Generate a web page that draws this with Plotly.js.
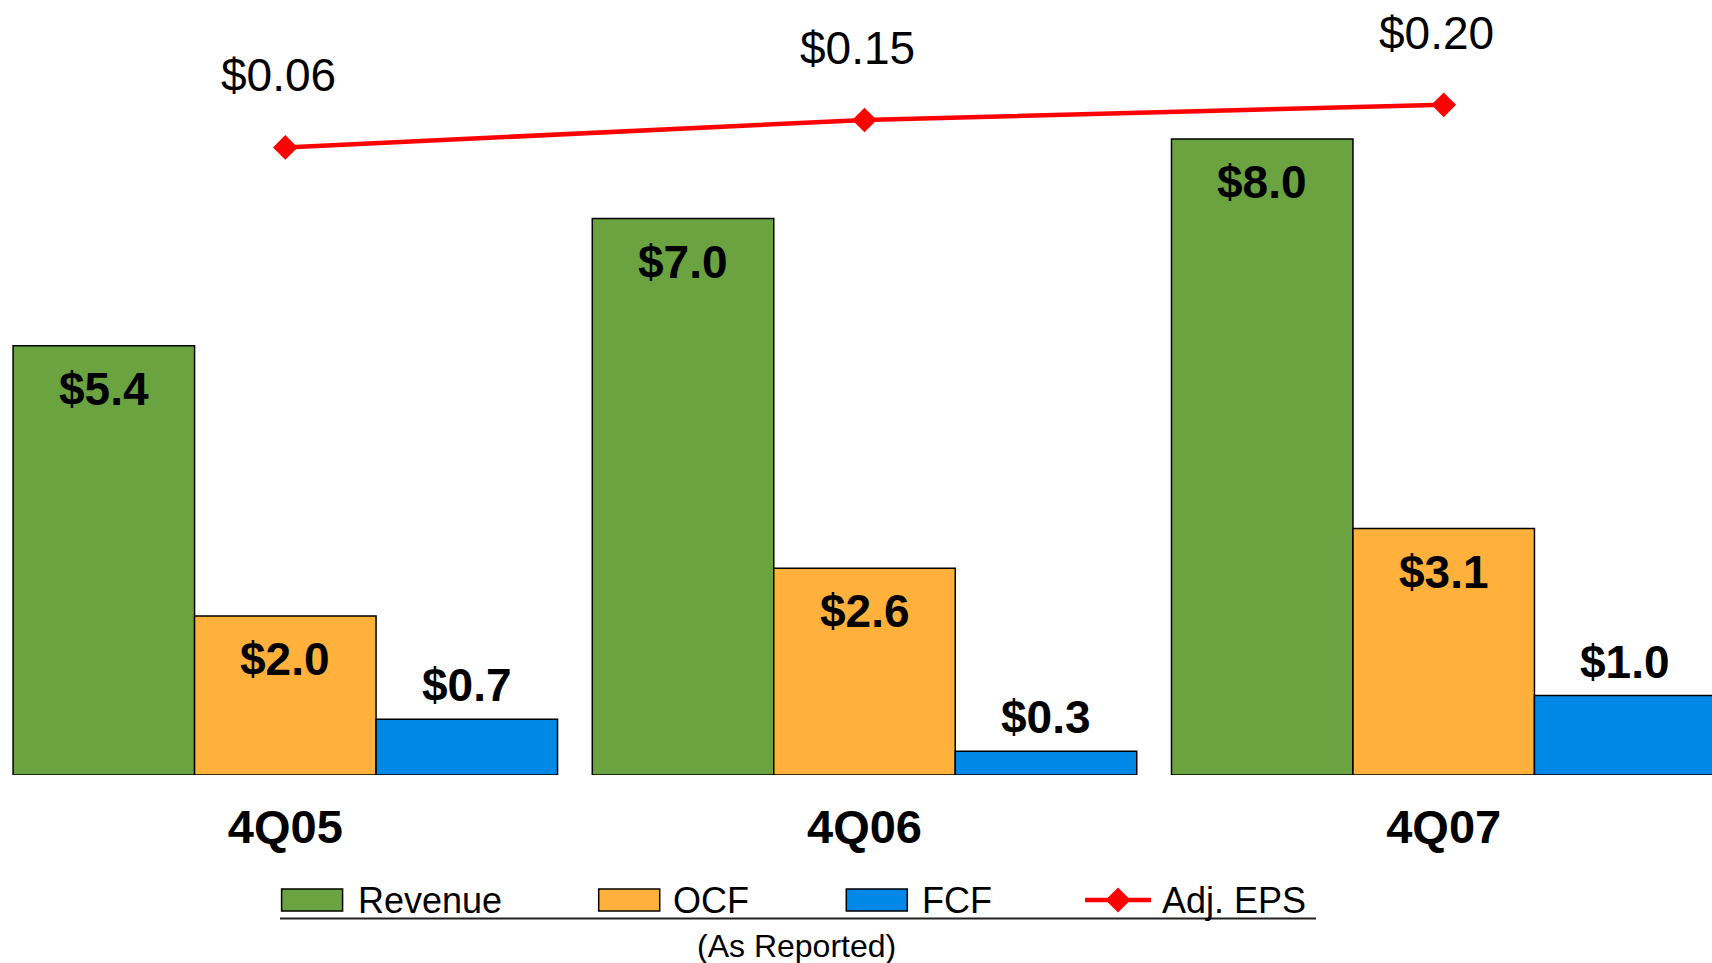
<!DOCTYPE html>
<html>
<head>
<meta charset="utf-8">
<script src="https://cdn.plot.ly/plotly-3.0.1.min.js"></script>
<style>html,body{margin:0;padding:0;background:#fff;}#chart{width:1712px;height:963px;}</style>
</head>
<body>
<div id="chart"></div>
<script>
const categories = ['4Q05', '4Q06', '4Q07'];
const revenue = [5.4, 7.0, 8.0];
const ocf = [2.0, 2.6, 3.1];
const fcf = [0.7, 0.3, 1.0];
const adjEps = [0.06, 0.15, 0.20];
const seriesNames = ['Revenue', 'OCF', 'FCF', 'Adj. EPS'];
const seriesColors = ['#6BA340', '#FFB13B', '#0088E6', '#FF0000'];
const footNote = '(As Reported)';

const W = 1712, H = 963, BASE = 775;
const FONT = 'Liberation Sans, Arial, sans-serif';
const idx = categories.map((c, i) => i);
const bargap = 0.06;
const bw = (1 - bargap) / 3;

const barSeries = [revenue, ocf, fcf];
const traces = barSeries.map((vals, k) => ({
  type: 'bar', x: idx, y: vals, name: seriesNames[k],
  marker: {color: seriesColors[k], line: {color: '#000', width: 1.5}},
  hoverinfo: 'skip', showlegend: false
}));
traces.push({
  type: 'scatter', mode: 'lines+markers', x: idx, y: adjEps, yaxis: 'y2', name: seriesNames[3],
  line: {color: seriesColors[3], width: 4.5},
  marker: {symbol: 'diamond', size: 19, color: seriesColors[3]},
  hoverinfo: 'skip', showlegend: false
});

const px = v => v / W;
const py = v => (BASE - v) / BASE;

const annotations = [];
barSeries.forEach((vals, k) => {
  vals.forEach((v, i) => {
    annotations.push({
      x: i + (k - 1) * bw, y: v, xref: 'x', yref: 'y',
      text: '$' + v.toFixed(1), showarrow: false,
      xanchor: 'center', yanchor: 'middle',
      yshift: k === 2 ? 34 : -43,
      font: {family: FONT, size: 46, color: '#000', weight: 'bold'}
    });
  });
});
adjEps.forEach((v, i) => {
  annotations.push({
    x: i, y: v, xref: 'x', yref: 'y2',
    text: '$' + v.toFixed(2), showarrow: false,
    xanchor: 'center', yanchor: 'middle', xshift: -7, yshift: 72,
    font: {family: FONT, size: 46, color: '#000'}
  });
});

// custom legend
const shapes = [];
const swatchX = [281.6, 598.7, 846.3];
const textX = [356, 671, 920, 1160];
const legY = 900;
swatchX.forEach((x0, k) => {
  shapes.push({type: 'rect', xref: 'paper', yref: 'paper',
    x0: px(x0), x1: px(x0 + 61), y0: py(legY - 11), y1: py(legY + 11),
    fillcolor: seriesColors[k], line: {color: '#000', width: 1.5}});
});
shapes.push({type: 'line', xref: 'paper', yref: 'paper',
  x0: px(1085), x1: px(1151), y0: py(legY), y1: py(legY),
  line: {color: seriesColors[3], width: 4.5}});
shapes.push({type: 'path', xref: 'paper', yref: 'paper',
  path: 'M' + px(1105.5) + ',' + py(legY) + ' L' + px(1118) + ',' + py(legY - 12.5) +
        ' L' + px(1130.5) + ',' + py(legY) + ' L' + px(1118) + ',' + py(legY + 12.5) + ' Z',
  fillcolor: seriesColors[3], line: {width: 0}});
shapes.push({type: 'line', xref: 'paper', yref: 'paper',
  x0: px(280), x1: px(1316), y0: py(918.5), y1: py(918.5),
  line: {color: '#222', width: 2}});
seriesNames.forEach((n, k) => {
  annotations.push({x: px(textX[k]), y: py(legY), xref: 'paper', yref: 'paper',
    text: n, showarrow: false, xanchor: 'left', yanchor: 'middle',
    font: {family: FONT, size: 36, color: '#000'}});
});
annotations.push({x: px(796), y: py(946), xref: 'paper', yref: 'paper',
  text: footNote, showarrow: false, xanchor: 'center', yanchor: 'middle',
  font: {family: FONT, size: 32, color: '#000'}});

const layout = {
  width: W, height: H,
  margin: {l: 0, r: 0, t: 0, b: H - BASE, pad: 0},
  paper_bgcolor: '#fff', plot_bgcolor: '#fff',
  barmode: 'group', bargap: bargap, bargroupgap: 0,
  showlegend: false,
  xaxis: {range: [-0.4926, 2.4632], tickmode: 'array', tickvals: idx, ticktext: categories,
    showgrid: false, zeroline: false, showline: false, ticks: '',
    ticklabelstandoff: 20,
    tickfont: {family: FONT, size: 47, color: '#000', weight: 'bold'}},
  yaxis: {range: [0, BASE / 79.5], visible: false, showgrid: false, zeroline: false},
  yaxis2: {range: [-2.0024, 0.5444], overlaying: 'y', visible: false, showgrid: false, zeroline: false},
  annotations: annotations, shapes: shapes
};

Plotly.newPlot('chart', traces, layout, {staticPlot: true, displayModeBar: false});
</script>
</body>
</html>
